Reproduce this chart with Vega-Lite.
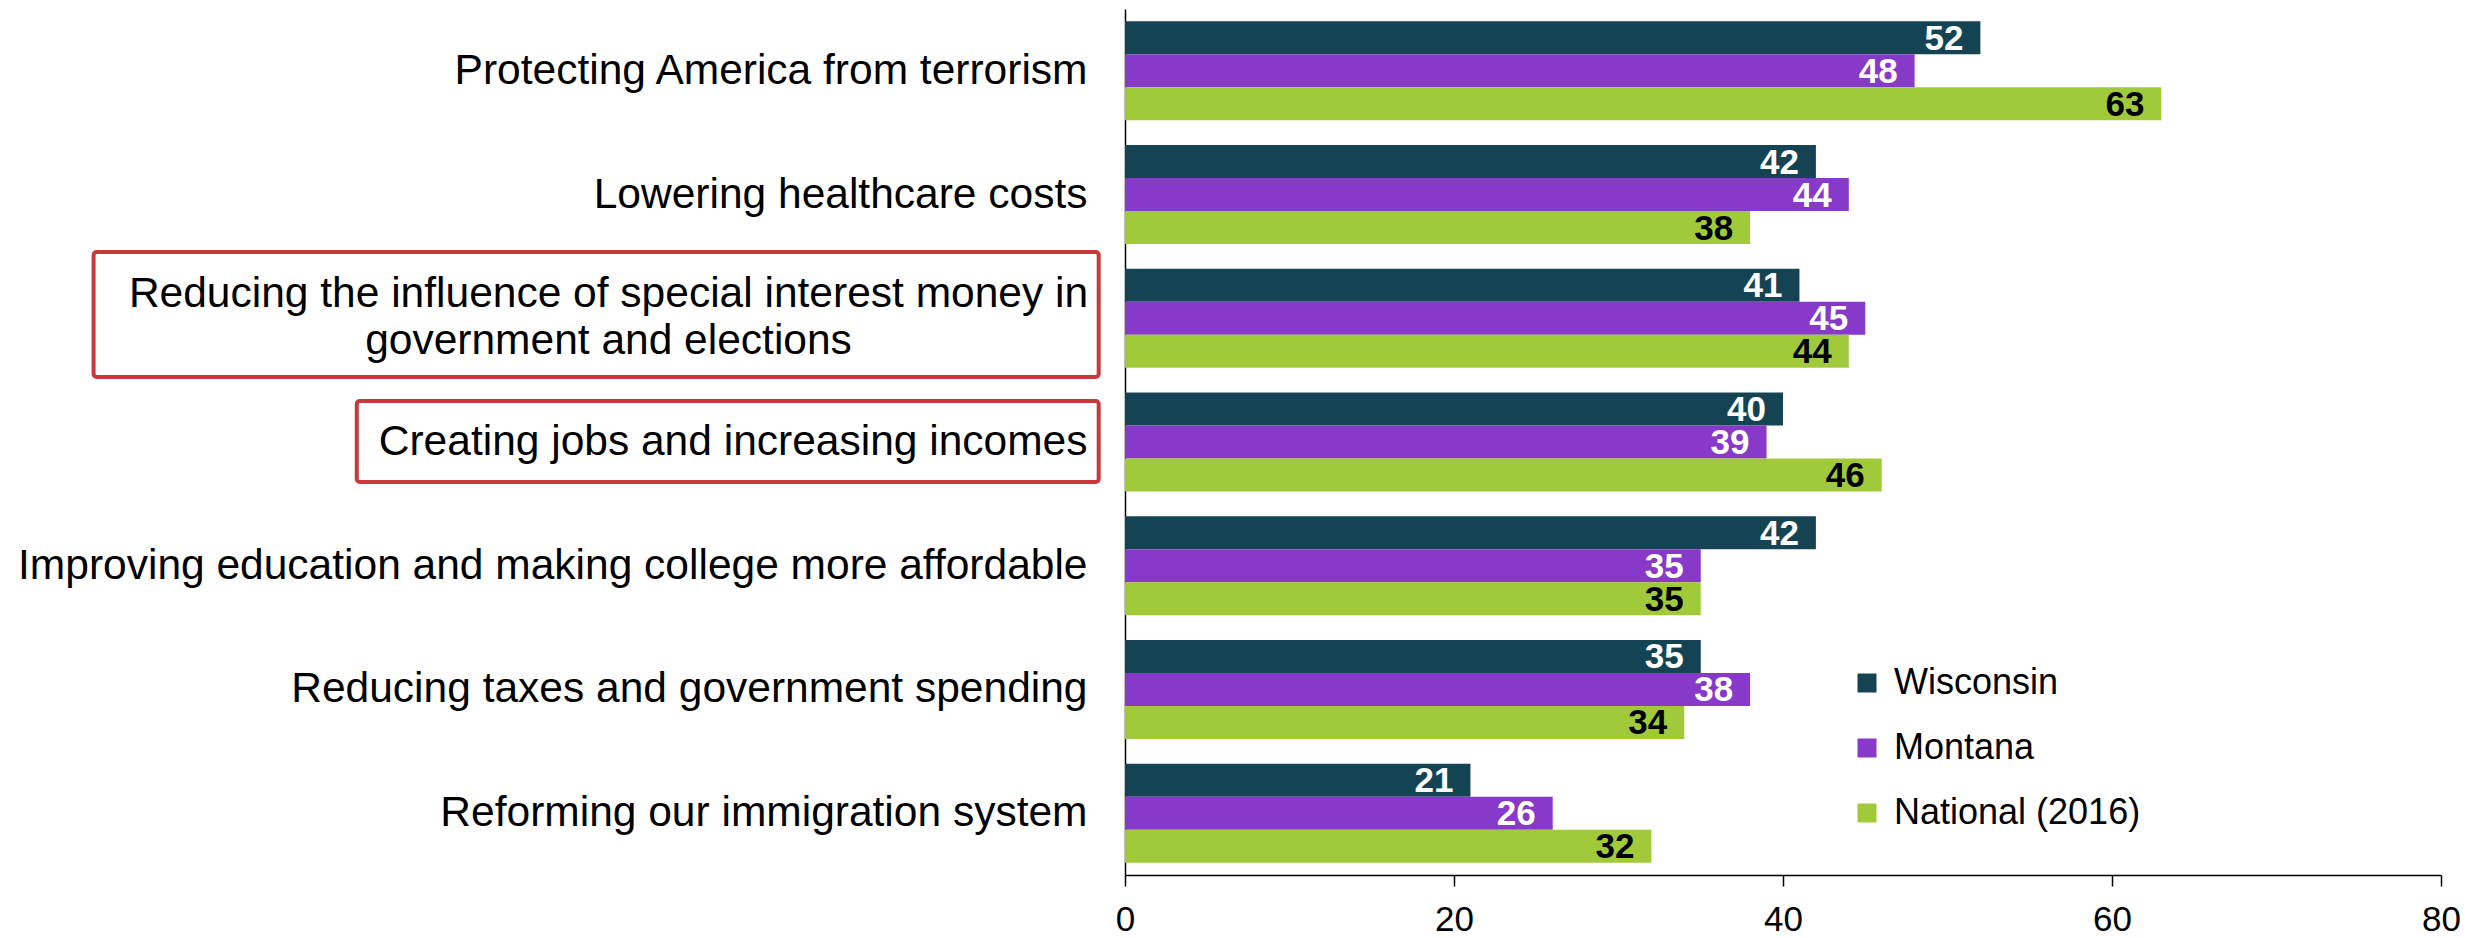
{
  "$schema": "https://vega.github.io/schema/vega-lite/v6.json",
  "width": 1316,
  "height": 866,
  "autosize": {"type": "none"},
  "padding": {"left": 1125, "top": 9, "right": 37, "bottom": 63},
  "background": "white",
  "config": {"font": "Liberation Sans", "view": {"stroke": null}},
  "datasets": {
    "survey": [
      {"issue": "Protecting America from terrorism", "series": "Wisconsin", "value": 52},
      {"issue": "Protecting America from terrorism", "series": "Montana", "value": 48},
      {"issue": "Protecting America from terrorism", "series": "National (2016)", "value": 63},
      {"issue": "Lowering healthcare costs", "series": "Wisconsin", "value": 42},
      {"issue": "Lowering healthcare costs", "series": "Montana", "value": 44},
      {"issue": "Lowering healthcare costs", "series": "National (2016)", "value": 38},
      {"issue": "Reducing the influence of special interest money in government and elections", "series": "Wisconsin", "value": 41},
      {"issue": "Reducing the influence of special interest money in government and elections", "series": "Montana", "value": 45},
      {"issue": "Reducing the influence of special interest money in government and elections", "series": "National (2016)", "value": 44},
      {"issue": "Creating jobs and increasing incomes", "series": "Wisconsin", "value": 40},
      {"issue": "Creating jobs and increasing incomes", "series": "Montana", "value": 39},
      {"issue": "Creating jobs and increasing incomes", "series": "National (2016)", "value": 46},
      {"issue": "Improving education and making college more affordable", "series": "Wisconsin", "value": 42},
      {"issue": "Improving education and making college more affordable", "series": "Montana", "value": 35},
      {"issue": "Improving education and making college more affordable", "series": "National (2016)", "value": 35},
      {"issue": "Reducing taxes and government spending", "series": "Wisconsin", "value": 35},
      {"issue": "Reducing taxes and government spending", "series": "Montana", "value": 38},
      {"issue": "Reducing taxes and government spending", "series": "National (2016)", "value": 34},
      {"issue": "Reforming our immigration system", "series": "Wisconsin", "value": 21},
      {"issue": "Reforming our immigration system", "series": "Montana", "value": 26},
      {"issue": "Reforming our immigration system", "series": "National (2016)", "value": 32}
    ],
    "highlight": [
      {"issue": "Reducing the influence of special interest money in government and elections"},
      {"issue": "Creating jobs and increasing incomes"}
    ]
  },
  "layer": [
    {
      "data": {"name": "survey"},
      "mark": {"type": "bar"},
      "encoding": {
        "y": {
          "field": "issue",
          "type": "nominal",
          "title": null,
          "scale": {
            "domain": [
              "Protecting America from terrorism",
              "Lowering healthcare costs",
              "Reducing the influence of special interest money in government and elections",
              "Creating jobs and increasing incomes",
              "Improving education and making college more affordable",
              "Reducing taxes and government spending",
              "Reforming our immigration system"
            ],
            "paddingInner": 0.2,
            "paddingOuter": 0.1
          },
          "axis": {
            "ticks": false,
            "domainColor": "black",
            "domainWidth": 1.5,
            "labelFontSize": 42.5,
            "labelColor": "black",
            "labelLimit": 0,
            "labelLineHeight": 47,
            "labelPadding": {"condition": {"test": "datum.value == 'Reducing the influence of special interest money in government and elections'", "value": 517}, "value": 38},
            "labelAlign": {"condition": {"test": "datum.value == 'Reducing the influence of special interest money in government and elections'", "value": "center"}, "value": "right"},
            "labelOffset": {"condition": {"test": "datum.value == 'Reducing the influence of special interest money in government and elections'", "value": -24}, "value": 0},
            "labelExpr": "datum.value == 'Reducing the influence of special interest money in government and elections' ? ['Reducing the influence of special interest money in', 'government and elections'] : datum.label"
          }
        },
        "x": {
          "field": "value",
          "type": "quantitative",
          "title": null,
          "scale": {"domain": [0, 80], "nice": false},
          "axis": {
            "values": [0, 20, 40, 60, 80],
            "grid": false,
            "tickSize": 11,
            "tickColor": "black",
            "tickWidth": 1.5,
            "domainColor": "black",
            "domainWidth": 1.5,
            "labelFontSize": 35,
            "labelColor": "black",
            "labelPadding": 16,
            "labelFlush": false
          }
        },
        "yOffset": {
          "field": "series",
          "type": "nominal",
          "scale": {"domain": ["Wisconsin", "Montana", "National (2016)"], "paddingInner": 0, "paddingOuter": 0}
        },
        "color": {
          "field": "series",
          "type": "nominal",
          "scale": {"domain": ["Wisconsin", "Montana", "National (2016)"], "range": ["#144454", "#8739C9", "#A1CA3B"]},
          "legend": {
            "title": null,
            "orient": "none",
            "legendX": 724,
            "legendY": 656,
            "symbolType": "square",
            "symbolSize": 361,
            "symbolStrokeWidth": 0,
            "symbolOpacity": 1,
            "labelFontSize": 36,
            "labelColor": "black",
            "labelLimit": 0,
            "labelOffset": 9,
            "rowPadding": 29,
            "padding": 0
          }
        }
      }
    },
    {
      "data": {"name": "survey"},
      "mark": {"type": "text", "align": "right", "baseline": "middle", "dx": -17, "dy": 1, "fontSize": 35, "fontWeight": "bold"},
      "encoding": {
        "y": {"field": "issue", "type": "nominal"},
        "x": {"field": "value", "type": "quantitative"},
        "yOffset": {"field": "series", "type": "nominal"},
        "text": {"field": "value", "type": "quantitative"},
        "color": {"condition": {"test": "datum.series == 'National (2016)'", "value": "black"}, "value": "white"}
      }
    },
    {
      "data": {"name": "highlight"},
      "transform": [{"filter": "datum.issue == 'Reducing the influence of special interest money in government and elections'"}],
      "mark": {"type": "rect", "fill": "transparent", "stroke": "#C8393B", "strokeWidth": 4, "cornerRadius": 3},
      "encoding": {
        "x": {"datum": -62.7},
        "x2": {"datum": -1.6},
        "y": {"field": "issue", "type": "nominal", "bandPosition": -0.17},
        "y2": {"field": "issue", "bandPosition": 1.093}
      }
    },
    {
      "data": {"name": "highlight"},
      "transform": [{"filter": "datum.issue == 'Creating jobs and increasing incomes'"}],
      "mark": {"type": "rect", "fill": "transparent", "stroke": "#C8393B", "strokeWidth": 4, "cornerRadius": 3},
      "encoding": {
        "x": {"datum": -46.7},
        "x2": {"datum": -1.6},
        "y": {"field": "issue", "type": "nominal", "bandPosition": 0.086},
        "y2": {"field": "issue", "bandPosition": 0.904}
      }
    }
  ]
}
